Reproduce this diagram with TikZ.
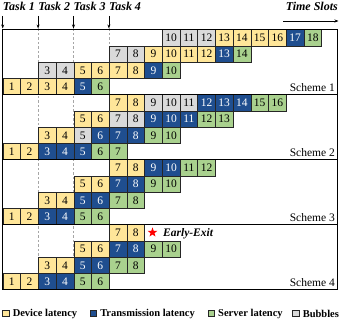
\documentclass[tikz,border=0pt]{standalone}
\usepackage{fontspec}
\setmainfont{Liberation Serif}
\usepackage{xcolor}
\usetikzlibrary{arrows.meta,shapes.geometric}

\definecolor{devcol}{HTML}{FFE699}
\definecolor{transcol}{HTML}{1F4E8F}
\definecolor{srvcol}{HTML}{A9D18E}
\definecolor{bubcol}{HTML}{DADADA}

\tikzset{
  slot/.style={draw=black!85, line width=0.6pt, minimum width=17.7pt,
    minimum height=16.25pt, inner sep=0pt, anchor=north west,
    font=\fontsize{11.5}{12}\selectfont},
  dev/.style={slot, fill=devcol},
  trans/.style={slot, fill=transcol, text=white},
  srv/.style={slot, fill=srvcol},
  bub/.style={slot, fill=bubcol},
  tasklbl/.style={anchor=base west, inner sep=0pt, font=\fontsize{12}{12}\selectfont\bfseries\itshape},
  legbox/.style={draw=black!85, line width=0.6pt, minimum size=6.5pt, inner sep=0pt},
  legtxt/.style={anchor=west, inner sep=0pt, xshift=3pt, font=\fontsize{10.5}{11}\selectfont\bfseries},
}

\begin{document}
\begin{tikzpicture}[x=1pt,y=-1pt]
\useasboundingbox (0,0) rectangle (341,320);

% Task arrows and dashed guides
\foreach \t/\x in {1/2.7, 2/38.1, 3/73.5, 4/108.9}{
  \node[tasklbl] (task\t) at (\x,10.5) {Task \t};
  \coordinate (top\t) at (\x,28.5);
  \coordinate (bot\t) at (\x,289.5);
  \draw[-{Stealth[length=4pt,width=3pt]}, line width=0.6pt] (task\t.south west) ++(0,5) -- (top\t);
}
\foreach \t in {2,3,4}
  \draw[gray!70, dashed, dash pattern=on 2.5pt off 2pt, line width=0.6pt] (top\t) -- (bot\t);

% Time axis
\node[anchor=base east, inner sep=0pt, font=\fontsize{12}{12}\selectfont\bfseries\itshape] (tslots) at (338,10.5) {Time Slots};
\coordinate (tsA) at (283,21);
\coordinate (tsB) at (338.5,21);
\draw[-{Stealth[length=4pt,width=3pt]}, line width=0.6pt] (tsA) -- (tsB);

% Time-slot cells: scheme/task/row
\foreach \s/\t/\row in {
  1/1/{1/dev,2/dev,3/dev,4/dev,5/trans,6/srv},
  1/2/{3/bub,4/bub,5/dev,6/dev,7/dev,8/dev,9/trans,10/srv},
  1/3/{7/bub,8/bub,9/dev,10/dev,11/dev,12/dev,13/trans,14/srv},
  1/4/{10/bub,11/bub,12/bub,13/dev,14/dev,15/dev,16/dev,17/trans,18/srv},
  2/1/{1/dev,2/dev,3/trans,4/trans,5/trans,6/srv,7/srv},
  2/2/{3/dev,4/dev,5/bub,6/trans,7/trans,8/trans,9/srv,10/srv},
  2/3/{5/dev,6/dev,7/bub,8/bub,9/trans,10/trans,11/trans,12/srv,13/srv},
  2/4/{7/dev,8/dev,9/bub,10/bub,11/bub,12/trans,13/trans,14/trans,15/srv,16/srv},
  3/1/{1/dev,2/dev,3/trans,4/trans,5/srv,6/srv},
  3/2/{3/dev,4/dev,5/trans,6/trans,7/srv,8/srv},
  3/3/{5/dev,6/dev,7/trans,8/trans,9/srv,10/srv},
  3/4/{7/dev,8/dev,9/trans,10/trans,11/srv,12/srv},
  4/1/{1/dev,2/dev,3/trans,4/trans,5/srv,6/srv},
  4/2/{3/dev,4/dev,5/trans,6/trans,7/srv,8/srv},
  4/3/{5/dev,6/dev,7/trans,8/trans,9/srv,10/srv},
  4/4/{7/dev,8/dev}}{
  \foreach \k/\sty in \row
    \node[\sty] (s\s t\t c\k) at ({2.7+17.7*(\k-1)},{29.5+65*(\s-1)+16.25*(4-\t)}) {\k};
}

% Scheme frames
\draw[line width=0.9pt] (2.7,29.5) rectangle (337.5,289.5);
\foreach \s/\y in {1/94.5, 2/159.5, 3/224.5, 4/289.5}{
  \draw[line width=0.9pt] (2.7,\y) -- (337.5,\y);
  \node[anchor=base east, inner sep=0pt, font=\fontsize{11.5}{12}\selectfont] (scheme\s) at (335,\y-3) {Scheme \s};
}

% Early exit mark
\node[star, star points=5, star point ratio=2.4, fill=red, inner sep=0pt, minimum size=10pt] (exitstar) at (152.5,232.5) {};
\node[anchor=base west, inner sep=0pt, font=\fontsize{11.5}{12}\selectfont\bfseries\itshape] (exitlbl) at (163,237) {Early-Exit};

% Legend
\foreach \n/\x/\col/\lbl in {dev/6/devcol/Device latency, trans/93.5/transcol/Transmission latency,
  srv/211.5/srvcol/Server latency, bub/296/bubcol/Bubbles}{
  \node[legbox, fill=\col] (lg\n) at (\x,313.5) {};
  \node[legtxt] (lg\n txt) at (lg\n.east) {\lbl};
}
\end{tikzpicture}
\end{document}
